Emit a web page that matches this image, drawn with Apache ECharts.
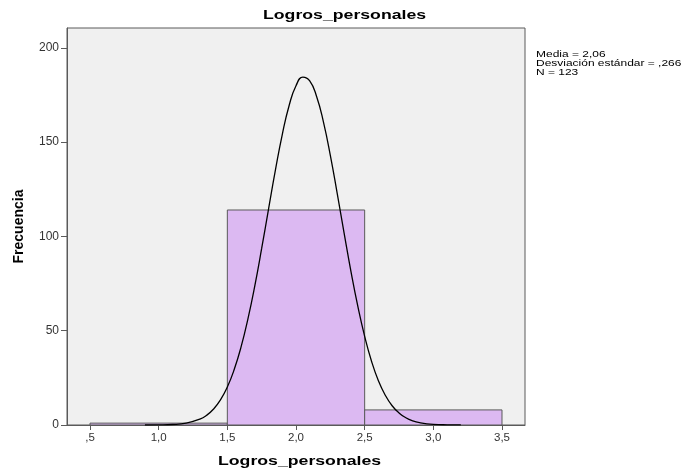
<!DOCTYPE html>
<html>
<head>
<meta charset="utf-8">
<script src="https://cdn.jsdelivr.net/npm/echarts@6/dist/echarts.min.js"></script>
<style>html,body{margin:0;padding:0;background:#fff}#c{width:684px;height:473px}</style>
</head>
<body>
<div id="c"></div>
<script>
// Histogram bins [start, end] and frequencies
var binStarts = [0.5, 1.5, 2.5];
var binEnds = [1.5, 2.5, 3.5];
var frequencies = [1, 114, 8];
// Normal curve points
var curveX = [0.9, 1.0, 1.1, 1.2, 1.3, 1.35, 1.4, 1.45, 1.5, 1.55, 1.6, 1.65, 1.7, 1.75, 1.8, 1.85, 1.9, 1.95, 2.0, 2.05, 2.1, 2.15, 2.2, 2.25, 2.3, 2.35, 2.4, 2.45, 2.5, 2.55, 2.6, 2.65, 2.7, 2.75, 2.8, 2.85, 2.9, 3.0, 3.1, 3.2];
var curveY = [0.01, 0.07, 0.27, 1.0, 3.1, 5.2, 8.5, 13.3, 20.1, 29.4, 41.4, 56.3, 73.8, 93.6, 114.5, 135.1, 154.0, 169.4, 179.9, 184.4, 182.4, 174.2, 160.6, 143.0, 122.8, 101.9, 81.5, 63.0, 47.0, 33.8, 23.5, 15.8, 10.2, 6.4, 3.85, 2.2, 1.26, 0.36, 0.09, 0.02];
var xTicks = [0.5, 1.0, 1.5, 2.0, 2.5, 3.0, 3.5];
var yTicks = [0, 50, 100, 150, 200];
var titleText = 'Logros_personales';
var xName = 'Logros_personales';
var yName = 'Frecuencia';
var statsLines = ['Media = 2,06', 'Desviación estándar = ,266', 'N = 123'];

function fmtX(v) {
  var s = v.toFixed(1).replace('.', ',');
  if (s.indexOf('0,') === 0) s = s.substring(1);
  return s;
}

var chart = echarts.init(document.getElementById('c'), null, {renderer: 'canvas'});
var barData = binStarts.map(function (s, i) { return [s, binEnds[i], frequencies[i]]; });
var curveData = curveX.map(function (x, i) { return [x, curveY[i]]; });
var fontFam = 'Liberation Sans, Arial, sans-serif';

chart.setOption({
  animation: false,
  backgroundColor: '#ffffff',
  graphic: [{
    type: 'text', x: 263, y: 8, scaleX: 1.31,
    style: {text: titleText, fontFamily: fontFam, fontSize: 13.5, fontWeight: 'bold', fill: '#000', textBaseline: 'top'}
  }, {
    type: 'text', x: 218, y: 454, scaleX: 1.31,
    style: {text: xName, fontFamily: fontFam, fontSize: 13.5, fontWeight: 'bold', fill: '#000', textBaseline: 'top'}
  }, {
    type: 'text', x: 536, y: 50, scaleX: 1.33,
    style: {text: statsLines.join('\n'), fontFamily: fontFam, fontSize: 9, lineHeight: 9, fill: '#000', textBaseline: 'top'}
  }],
  grid: {left: 67, right: 159, top: 28, bottom: 48, show: true, backgroundColor: '#f0f0f0', borderColor: '#5a5a5a', borderWidth: 1},
  xAxis: {
    type: 'value', min: 0.3325, max: 3.6675,
    axisLine: {show: true, onZero: false, lineStyle: {color: '#5a5a5a'}},
    axisTick: {show: true, length: 5, customValues: xTicks, lineStyle: {color: '#5a5a5a'}},
    axisLabel: {customValues: xTicks, formatter: fmtX, fontFamily: fontFam, fontSize: 11.5, color: '#333', margin: 7},
    splitLine: {show: false}
  },
  yAxis: {
    type: 'value', min: 0, max: 210.5,
    name: yName, nameLocation: 'middle', nameGap: 41, nameRotate: 90,
    nameTextStyle: {fontFamily: fontFam, fontSize: 14, fontWeight: 'bold', color: '#000'},
    axisLine: {show: true, lineStyle: {color: '#5a5a5a'}},
    axisTick: {show: true, length: 6, customValues: yTicks, lineStyle: {color: '#5a5a5a'}},
    axisLabel: {customValues: yTicks, fontFamily: fontFam, fontSize: 12, color: '#333', margin: 8},
    splitLine: {show: false}
  },
  series: [{
    type: 'custom',
    data: barData,
    renderItem: function (params, api) {
      var p0 = api.coord([api.value(0), api.value(2)]);
      var p1 = api.coord([api.value(1), 0]);
      return {
        type: 'rect',
        shape: {x: p0[0], y: p0[1], width: p1[0] - p0[0], height: p1[1] - p0[1]},
        style: {fill: '#dcb9f2', stroke: '#5a5a5a', lineWidth: 1}
      };
    },
    encode: {x: [0, 1], y: 2},
    z: 2
  }, {
    type: 'line',
    data: curveData,
    smooth: true,
    symbol: 'none',
    lineStyle: {color: '#000', width: 1.3},
    z: 3
  }]
});
</script>
</body>
</html>
